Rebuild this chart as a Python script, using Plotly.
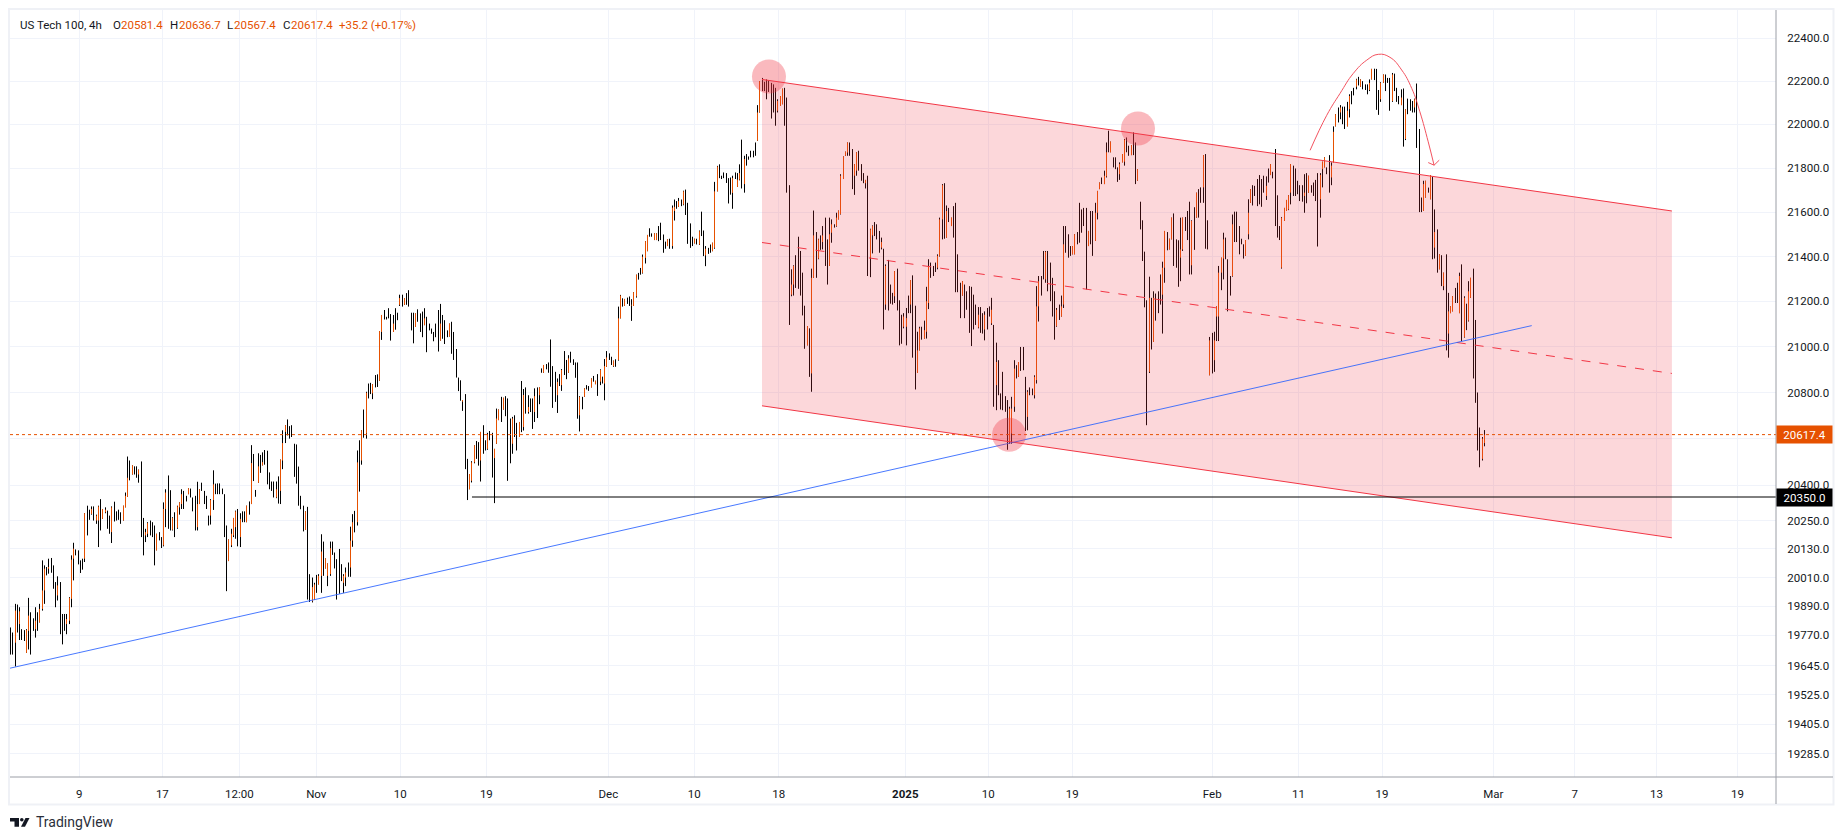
import math
import plotly.graph_objects as go

highs_oct = [19802,19781,19900,19897,19886,19795,19791,19795,19925,19865,19840,19886,19865,19900,20082,20061,20054,20089,20092,20061,19991,20015,19991,19858,19858,19858,19928,20103,20156,20128,20124,20082,20089,20281,20313,20296,20310,20310,20275,20313,20341,20299,20306,20292,20271,20310,20330,20289,20296,20285,20313,20369,20523,20506,20485,20481,20481,20467,20502,20261,20215,20243,20250,20243,20229,20194,20201,20180,20327,20383,20442,20379,20264,20285,20313,20327,20383,20376,20355,20387,20386,20348,20355,20415,20383,20411,20376,20355,20271,20341,20464,20407,20408,20408,20386,20362,20229,20170,20215,20261,20292,20299,20281,20289,20289,20313,20331,20572,20534,20380,20537,20530,20541,20551,20548]
lows_oct = [19690,19690,19641,19781,19750,19750,19746,19697,19711,19690,19788,19760,19788,19823,19872,19900,20019,20026,20030,19963,19886,19914,19774,19732,19788,19774,19816,19886,19998,20103,20065,20029,20043,20075,20187,20253,20275,20250,20236,20138,20208,20257,20281,20215,20194,20155,20246,20250,20253,20236,20250,20306,20351,20421,20446,20446,20432,20411,20180,20103,20159,20180,20187,20180,20061,20124,20166,20134,20141,20222,20215,20208,20208,20180,20215,20275,20299,20299,20331,20362,20348,20289,20208,20208,20320,20376,20320,20299,20229,20233,20295,20362,20362,20362,20362,20180,19953,20079,20138,20180,20173,20141,20138,20243,20243,20243,20275,20320,20418,20351,20411,20453,20485,20488,20404]
highs_nov = [20455,20416,20416,20416,20438,20510,20636,20658,20683,20654,20658,20578,20575,20480,20355,20313,20289,20308,20024,20010,19988,20021,20024,20192,20161,20090,20069,20161,20161,20115,20087,20130,20066,20024,20052,20073,20224,20277,20291,20549,20593,20636,20726,20803,20839,20842,20836,20876,20879,21069,21140,21162,21132,21170,21144,21140,21170,21150,21230,21230,21215,21237,21250,21150,21150,21147,21165,21147,21155,21170,21132,21102,21080,21065,21102,21162,21189,21140,21117,21072,21102,21110,21065,20990,20865,20853,20767,20793,20513,20448,20503,20571,20590,20585,20629,20658,20593,20625,20633,20625,20556,20730,20726,20781,20777,20784,20774,20687,20694,20701,20668,20672]
lows_nov = [20383,20376,20348,20345,20322,20320,20469,20581,20614,20600,20607,20436,20407,20313,20298,20204,20210,19918,19908,19906,19918,19946,19981,19946,20017,20048,19974,20017,20105,20048,19918,19942,19995,19946,19974,20013,20013,20139,20200,20229,20373,20488,20604,20600,20774,20793,20771,20822,20824,20851,21030,21120,21120,21125,21027,21065,21075,21117,21180,21177,21185,21185,21177,21072,21015,21087,21110,21065,21042,21095,20976,21072,21057,21024,21042,20979,21027,21035,21012,21042,21045,20969,20942,20865,20806,20764,20720,20469,20337,20383,20412,20494,20513,20484,20416,20535,20549,20552,20593,20433,20324,20578,20680,20672,20726,20697,20419,20494,20535,20607,20549,20607]
highs_dec = [20850,20815,20822,20788,20774,20774,20818,20822,20822,20905,20920,20924,20931,21032,20915,20890,20861,20880,20902,20981,20942,20963,20978,20945,20931,20931,20784,20781,20818,20832,20828,20861,20872,20851,20880,20901,20869,20946,20981,20971,20956,20939,20945,21177,21229,21214,21211,21217,21222,21210,21241,21319,21327,21349,21409,21469,21497,21527,21504,21504,21504,21537,21552,21499,21467,21477,21480,21630,21657,21650,21664,21657,21697,21702,21642,21549,21489,21480,21480,21517,21602,21517,21447,21439,21454,21462,21737,21810,21817,21765,21780,21777,21754,21757,21765,21780,21777,21817]
lows_dec = [20628,20635,20708,20708,20715,20642,20672,20689,20749,20886,20886,20901,20886,20825,20733,20759,20711,20828,20807,20876,20858,20886,20930,20920,20864,20686,20631,20727,20781,20813,20807,20822,20847,20836,20785,20832,20839,20766,20912,20942,20920,20912,20912,20939,21125,21177,21180,21189,21180,21114,21180,21217,21297,21319,21324,21369,21424,21489,21489,21474,21474,21469,21474,21417,21435,21447,21435,21435,21562,21615,21624,21627,21631,21587,21457,21439,21447,21459,21454,21452,21492,21402,21357,21412,21417,21424,21435,21694,21754,21750,21754,21732,21639,21679,21615,21750,21714,21744]
highs_jan = [21930,21856,21864,21853,21879,21879,21917,22089,22200,22215,22197,22208,22203,22192,22185,22169,22116,22131,22165,22169,22124,21722,21343,21361,21406,21489,21425,21328,21181,21091,21081,21346,21607,21510,21480,21495,21537,21575,21477,21575,21567,21545,21597,21607,21772,21853,21875,21917,21917,21887,21818,21872,21879,21818,21777,21746,21765,21525,21540,21555,21545,21515,21485,21435,21365,21385,21275,21238,21335,21346,21205,21141,21148,21171,21226,21295,21316,21181,21066,21088,21088,21115,21265,21388,21373,21358,21373,21410,21575,21727,21731,21630,21619,21575,21627,21642,21410,21283,21290,21275,21245,21268,21265,21230,21186,21175,21175,21148,21156,21171,21178,21216,21096,21018,20941,20796,20890,20784,20767,20738,20781,20941,20919,20933,20999,20999,20868,20810,20822,20817,20875,21268,21313,21313,21425,21425,21425,21373,21305,21245,21171,21186,21226,21537,21537,21500,21447,21447,21500,21510,21642,21612,21619,21619,21515,21605,21605,21642,21696,21734,21757,21788,21917,21971,21921,21849,21849,21803]
lows_jan = [21707,21688,21811,21838,21849,21849,21856,21925,22055,22154,22154,22116,22150,22027,22055,21994,22055,22085,22093,21994,21688,21096,21223,21226,21260,21256,21226,21138,20991,21006,20868,20803,21305,21305,21388,21430,21432,21358,21275,21358,21462,21530,21534,21567,21589,21750,21856,21856,21856,21704,21678,21765,21788,21742,21731,21707,21313,21308,21414,21492,21477,21417,21432,21076,21163,21160,21190,21186,21193,21160,21006,21013,21081,21006,21148,21148,20952,20813,20885,20984,21031,21036,21036,21166,21305,21313,21331,21343,21400,21477,21480,21485,21555,21537,21485,21241,21241,21126,21226,21126,21163,21061,21003,21076,21096,21081,21061,21058,21028,21076,21133,21096,20738,20723,20788,20726,20723,20716,20552,20578,20578,20716,20861,20868,20894,20897,20633,20636,20788,20788,20774,20839,21111,21226,21298,21283,21245,21201,21133,21031,21088,21118,21133,21171,21417,21395,21403,21410,21410,21455,21462,21507,21537,21253,21447,21455,21403,21470,21567,21704,21727,21727,21757,21872,21872,21803,21795,21737]
highs_feb = [21826,21864,21933,21940,21902,21905,21963,21917,21795,21647,21563,21422,21205,21310,21216,21245,21235,21245,21320,21377,21515,21510,21480,21575,21594,21477,21473,21575,21575,21578,21605,21647,21563,21622,21688,21704,21712,21859,21864,21563,21043,21061,21066,21178,21358,21395,21507,21485,21388,21313,21589,21602,21602,21537,21480,21455,21474,21658,21704,21722,21719,21750,21768,21750,21765,21762,21798,21818,21783,21887,21676,21537,21578,21619,21655,21676,21818,21811,21798,21742,21722,21722,21772,21777,21765,21722,21734,21746,21777,21777,21829,21849,21803,21859,21826,21991,22047,22078,22089,22082,22082,22104,22139,22154,22169,22211,22220,22208,22200,22185,22185,22208,22257,22258,22257,22159,22195,22231,22231,22215,22215,22238,22235,22169,22131,22162,22166,22070,22119,22116,22108,22119,22189,21979,21666,21742,21742,21711,21768,21761,21612,21522,21410,21406,21328,21410,21238,21178,21223,21260,21283,21328,21365,21223,21190,21290,21305,21346,21118,20800,20648,20607,20637]
lows_feb = [21746,21826,21811,21872,21856,21859,21859,21727,21742,21522,21380,21174,20658,20885,20988,21021,21115,21148,21186,21058,21283,21428,21432,21477,21358,21350,21265,21290,21425,21515,21474,21320,21320,21430,21575,21575,21642,21642,21435,21432,20875,20883,20890,21025,21025,21250,21298,21388,21156,21226,21310,21465,21465,21410,21455,21391,21403,21477,21642,21630,21673,21627,21635,21624,21688,21655,21734,21768,21753,21537,21485,21474,21346,21560,21605,21609,21635,21673,21673,21681,21650,21647,21597,21640,21688,21688,21673,21650,21445,21575,21712,21803,21772,21688,21722,21826,21991,22009,22024,22001,21979,21991,22032,22093,22134,22162,22180,22174,22162,22159,22139,22154,22208,22205,22067,22044,22104,22192,22154,22192,22063,22104,22154,22104,22093,22089,21898,21928,22047,22063,22055,22055,21892,21600,21600,21605,21666,21688,21658,21388,21391,21328,21343,21268,21250,20984,20952,21148,21156,21193,21193,21148,21025,21040,21073,21111,21216,20861,20755,20549,20477,20506,20567]

up_index = [2,4,7,8,11,13,14,15,17,21,25,26,27,28,33,36,38,39,41,42,45,50,51,52,54,57,60,61,65,68,69,72,74,75,76,79,83,84,89,90,97,98,99,100,102,105,107,110,112,
118,120,121,122,131,134,135,137,138,140,141,142,148,149,151,152,154,156,158,161,164,165,170,173,175,180,184,191,195,201,204,205,206,209,212,215,216,217,219,223,226,
228,230,233,235,237,243,245,248,253,255,258,260,262,264,265,268,270,271,273,276,277,278,281,282,283,286,287,292,294,295,297,299,304,306,309,312,313,314,321,323,324,
326,332,333,341,342,343,347,348,354,356,357,359,361,364,365,367,368,369,370,371,372,375,376,380,382,383,387,389,393,397,398,400,403,404,406,407,408,412,413,414,416,418,423,430,433,436,438,444,445,446,448,452,455,456,457,460,465,467,468,472,473,479,482,483,484,486,487,489,
493,494,495,498,501,506,508,512,513,515,516,520,521,525,527,530,533,535,536,537,538,539,543,549,550,551,558,560,565,566,567,568,569,575,577,582,583,584,587,588,589,591,594,595,598,600,604,605,609,610,614,618,620,624,628,629,631,633,635,637,639,640,641,644,646,648,649,654,655]
up_open = [19739,19816,19697,19788,19795,19823,19879,19956,20047,19935,19816,19830,19921,20089,20089,20278,20250,20250,20257,20285,20201,20250,20306,20351,20446,20446,20187,20194,20124,20145,20299,20211,20219,20306,20320,20362,20222,20320,20271,20337,20079,20145,20187,20222,20180,20243,20320,20411,20485,
20348,20376,20506,20629,20210,19911,19918,19981,20017,20048,20017,20024,19988,20010,20052,20165,20243,20506,20622,20796,20851,21065,21065,21185,21185,21087,21095,21027,21045,20760,20383,20419,20498,20506,20556,20516,20578,20680,20726,20578,20607,
20650,20715,20715,20788,20886,20788,20832,20886,20701,20781,20822,20836,20847,20839,20912,20915,20942,21125,21180,21182,21180,21222,21327,21394,21424,21474,21474,21447,21447,21605,21624,21634,21459,21454,21405,21424,21439,21694,21687,21714,21747,
21727,21925,22055,22063,22085,22093,21230,21275,21006,20883,21305,21391,21465,21358,21507,21537,21567,21591,21750,21856,21871,21765,21788,21731,21395,21495,21440,21186,21223,21088,21088,21186,20885,20984,21036,21066,21193,21350,21403,21567,21485,21537,21226,21085,21076,21103,20832,20585,20622,20738,20868,20694,20788,20854,21178,21298,21091,21133,21186,21410,21410,21447,21470,21597,21704,21727,21762,21872,
21772,21826,21829,21859,21742,20890,21021,21230,21350,21432,21477,21395,21432,21361,21575,21712,20875,20941,21133,21133,21328,21391,21313,21403,21500,21642,21673,21768,21350,21560,21605,21612,21688,21673,21688,21658,21795,21803,21757,21826,21991,22055,21991,22070,22174,22174,22159,22208,22116,22192,22108,22089,21933,22078,21605,21666,21658,21440,21343,21268,21058,21148,21156,21148,21043,21115,21216,20513,20581]
up_close = [19872,19869,19791,19851,19830,19879,19956,20047,20054,19977,19837,19925,20085,20131,20281,20299,20271,20310,20299,20296,20306,20313,20355,20432,20485,20467,20201,20239,20194,20299,20369,20261,20310,20327,20362,20387,20320,20383,20337,20404,20170,20194,20261,20289,20257,20313,20495,20481,20499,
20383,20510,20581,20658,20289,19970,19981,20017,20119,20090,20069,20133,20017,20031,20165,20243,20498,20636,20799,20836,21069,21140,21102,21215,21215,21147,21125,21102,21102,20767,20448,20498,20571,20629,20619,20556,20687,20726,20777,20687,20672,
20789,20737,20784,20822,20920,20846,20898,20949,20781,20818,20861,20851,20898,20915,20953,20939,21125,21226,21211,21185,21241,21319,21399,21469,21497,21504,21504,21477,21620,21624,21650,21694,21480,21514,21435,21462,21694,21807,21754,21747,21777,
21841,22055,22200,22108,22131,22165,21275,21358,21091,21305,21495,21477,21495,21500,21545,21575,21607,21765,21853,21875,21917,21818,21872,21746,21522,21537,21465,21358,21335,21133,21126,21295,20984,21081,21073,21201,21358,21403,21567,21722,21605,21575,21290,21141,21141,21163,20933,20730,20730,20904,20933,20803,20868,21178,21290,21421,21163,21178,21455,21447,21500,21515,21597,21696,21734,21765,21872,21921,
21818,21864,21930,21905,21795,21216,21216,21350,21515,21480,21575,21432,21575,21560,21688,21859,21028,21028,21178,21328,21395,21477,21545,21474,21597,21704,21719,21818,21575,21619,21655,21676,21818,21688,21765,21768,21829,21849,21811,21966,22047,22078,22063,22131,22208,22208,22192,22257,22192,22231,22231,22124,22070,22116,21727,21742,21768,21510,21410,21328,21156,21178,21223,21313,21216,21245,21305,20600,20617]

price_ticks = [22400,22200,22000,21800,21600,21400,21200,21000,20800,20600,20400,20250,20130,20010,19890,19770,19645,19525,19405,19285]
hidden_price_labels = [20600]
time_ticks = [30.6,67.5,101.7,135.9,173.2,211.5,265.7,303.9,341.4,397.7,434.6,471.9,534.1,572.4,609.6,659.0,695.2,731.6,767.6]
time_labels = ["9","17","12:00","Nov","10","19","Dec","10","18","<b>2025</b>","10","19","Feb","11","19","Mar","7","13","19"]

channel_x = [334.0,738.4]
channel_top = [22208,21605]
channel_mid = [21463,20883]
channel_bottom = [20742,20177]
trend_x = [-0.2,676.1]
trend_y = [19634,21093]
support_x = [205.1,784.67]
support_price = 20350
last_price = 20617.4
circle_x = [337.1,501.1,443.8]
circle_y = [22222,21981,20617]
arc_x = [577.6,585,590.9,596.8,602.8,607.9,613.1,618.3,622.8,626.4,630.1,632.7]
arc_y = [21881,22042,22143,22236,22298,22325,22311,22252,22166,22058,21920,21813]
arrow_x = [630.1,632.7,635]
arrow_y = [21825,21813,21836]

highs = highs_oct + highs_nov + highs_dec + highs_jan + highs_feb
lows = lows_oct + lows_nov + lows_dec + lows_jan + lows_feb

L, R, T, B = 10, 1776, 10, 777
W, H = 1843, 840
INK = "#131722"; ORANGE = "#e65100"; RED = "#f23645"; GRID = "#f0f3fa"; AXIS = "#9b9ea6"
FONT = "Roboto"
X0, X1 = -0.22, 784.67
def xp(px): return (px - L) / (R - L)
def yp(py): return 1 - (py - T) / (B - T)
PX_PER_BAR = (R - L) / (X1 - X0)
def snapped(i):
    # keep each bar on a whole screen pixel, as the chart's own renderer does
    return (math.floor(L + 0.5 + 2.25 * i) + 0.5 - L) / PX_PER_BAR + X0

fig = go.Figure()
fig.add_trace(go.Scatter(x=channel_x + channel_x[::-1], y=channel_top + channel_bottom[::-1], fill="toself",
                         fillcolor="rgba(242,54,69,0.2)", mode="none", hoverinfo="skip"))
for ys, dash in ((channel_top, "solid"), (channel_bottom, "solid"), (channel_mid, "dash")):
    fig.add_trace(go.Scatter(x=channel_x, y=ys, mode="lines", line=dict(color=RED, width=1, dash=dash), hoverinfo="skip"))
fig.add_trace(go.Scatter(x=[X0, X1], y=[last_price, last_price], mode="lines",
                         line=dict(color=ORANGE, width=1, dash="dot"), hoverinfo="skip"))
idx = [snapped(i) for i in range(len(highs))]
up_x = [snapped(i) for i in up_index]
fig.add_trace(go.Ohlc(x=idx, open=lows, high=highs, low=lows, close=highs, tickwidth=0,
                      increasing_line=dict(color="#000000", width=1), decreasing_line=dict(color="#000000", width=1)))
fig.add_trace(go.Ohlc(x=up_x, open=up_open, high=up_close, low=up_open, close=up_close, tickwidth=0,
                      increasing_line=dict(color=ORANGE, width=1), decreasing_line=dict(color=ORANGE, width=1)))
fig.add_trace(go.Scatter(x=trend_x, y=trend_y, mode="lines", line=dict(color="#2962ff", width=1), opacity=0.85, hoverinfo="skip"))
fig.add_trace(go.Scatter(x=support_x, y=[support_price, support_price], mode="lines", line=dict(color="#000000", width=1), hoverinfo="skip"))
fig.add_trace(go.Scatter(x=circle_x, y=circle_y, mode="markers", marker=dict(size=34, color="rgba(242,54,69,0.35)", line=dict(width=0)), hoverinfo="skip"))
fig.add_trace(go.Scatter(x=arc_x, y=arc_y, mode="lines", line=dict(color=RED, width=1, shape="spline", smoothing=1.3), opacity=0.85, hoverinfo="skip"))
fig.add_trace(go.Scatter(x=arrow_x, y=arrow_y, mode="lines", line=dict(color=RED, width=1), opacity=0.85, hoverinfo="skip"))

shapes = [
    dict(type="rect", xref="paper", yref="paper", x0=xp(9), x1=xp(1833.5), y0=yp(9), y1=yp(804.5), line=dict(color="#eff1f6", width=2), layer="below"),
    dict(type="line", xref="paper", yref="paper", x0=xp(L), x1=xp(1833), y0=yp(B), y1=yp(B), line=dict(color=AXIS, width=1)),
    dict(type="line", xref="paper", yref="paper", x0=xp(R), x1=xp(R), y0=yp(T), y1=yp(804), line=dict(color=AXIS, width=1)),
    dict(type="path", xref="paper", yref="paper", line=dict(width=0), fillcolor=INK,
         path=f"M{xp(10)},{yp(818)} L{xp(19)},{yp(818)} L{xp(19)},{yp(826.7)} L{xp(14.5)},{yp(826.7)} L{xp(14.5)},{yp(821.5)} L{xp(10)},{yp(821.5)} Z"),
    dict(type="path", xref="paper", yref="paper", line=dict(width=0), fillcolor=INK,
         path=f"M{xp(25.5)},{yp(818)} L{xp(29.5)},{yp(818)} L{xp(25)},{yp(826.7)} L{xp(21)},{yp(826.7)} Z"),
    dict(type="circle", xref="paper", yref="paper", x0=xp(20), x1=xp(23.6), y0=yp(818), y1=yp(821.6), line=dict(width=0), fillcolor=INK),
]

annos = []
def text(px, py, s, color=INK, size=11.5, anchor="left"):
    annos.append(dict(xref="paper", yref="paper", x=xp(px), y=yp(py), text=s, showarrow=False, xanchor=anchor, yanchor="middle",
                      font=dict(family=FONT, size=size, color=color)))
text(18, 25, "US Tech 100, 4h")
for px, s, color in ((110.5, "O", INK), (119, "20581.4", ORANGE), (168, "H", INK), (177, "20636.7", ORANGE), (225, "L", INK), (232, "20567.4", ORANGE),
                     (280.5, "C", INK), (289, "20617.4", ORANGE), (337, "+35.2 (+0.17%)", ORANGE)):
    text(px, 25, s, color)
text(34, 822, "TradingView", "#2a2e39", 14)
for price, bg in ((last_price, ORANGE), (support_price, "#000000")):
    annos.append(dict(xref="paper", yref="y", x=xp(R), y=math.log10(price), text=f"{price:.1f}", showarrow=False, xanchor="left", yanchor="middle",
                      width=53, height=15, bgcolor=bg, align="center", font=dict(family=FONT, size=11.5, color="#ffffff")))

fig.update_layout(
    width=W, height=H, autosize=False, showlegend=False, paper_bgcolor="#ffffff", plot_bgcolor="#ffffff",
    margin=dict(l=L, r=W - R, t=T, b=H - B, pad=0), shapes=shapes, annotations=annos,
    font=dict(family=FONT, size=11.5, color=INK), dragmode=False,
    xaxis=dict(range=[X0, X1], tickmode="array", tickvals=time_ticks, ticktext=time_labels, showgrid=True, gridcolor=GRID, gridwidth=1,
               ticks="outside", ticklen=6, tickcolor="rgba(0,0,0,0)", zeroline=False, rangeslider=dict(visible=False), showline=False,
               tickangle=0),
    yaxis=dict(type="log", side="right", range=[math.log10(19192), math.log10(22533)], tickmode="array", tickvals=price_ticks,
               ticktext=["" if p in hidden_price_labels else f"{p:.1f}" for p in price_ticks], showgrid=True, gridcolor=GRID, gridwidth=1, ticks="outside", ticklen=8,
               tickcolor="rgba(0,0,0,0)", zeroline=False, showline=False),
)
fig.write_html("out.html", config=dict(displayModeBar=False), post_script="document.body.style.margin='0';")
